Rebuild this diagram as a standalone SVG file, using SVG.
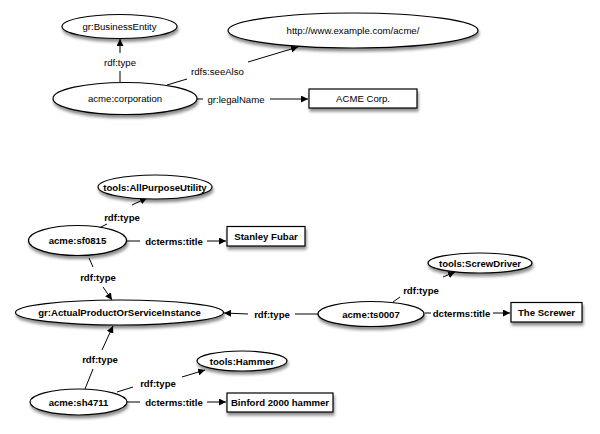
<svg xmlns="http://www.w3.org/2000/svg" width="600" height="434" viewBox="0 0 600 434">
<defs>
<filter id="sh" x="-20%" y="-40%" width="140%" height="200%">
<feDropShadow dx="1" dy="3" stdDeviation="1.6" flood-color="#000" flood-opacity="0.45"/>
</filter>
<marker id="ah" viewBox="0 0 10 10" refX="10" refY="5" markerWidth="7" markerHeight="7" markerUnits="userSpaceOnUse" orient="auto">
<path d="M0,0 L10,5 L0,10 z" fill="#000"/>
</marker>
</defs>
<style>
.n{fill:#fff;stroke:#000;stroke-width:1.2;filter:url(#sh)}
.t{font-family:"Liberation Sans",Arial,sans-serif;font-size:9.6px;text-anchor:middle;fill:#000}
.b{font-weight:bold}
.e{stroke:#000;stroke-width:1;fill:none}
.a{marker-end:url(#ah)}
</style>
<rect width="600" height="434" fill="#fff"/>

<g id="connectors">
<line class="e" x1="120" y1="82" x2="120" y2="71"/>
<line class="e a" x1="120" y1="53" x2="120" y2="39"/>
<text class="t" x="120" y="65.5">rdf:type</text>
<line class="e" x1="167" y1="85" x2="187" y2="79"/>
<line class="e a" x1="248" y1="62" x2="298" y2="47"/>
<text class="t" x="217.5" y="74.5">rdfs:seeAlso</text>
<line class="e" x1="197" y1="99" x2="203" y2="99"/>
<line class="e a" x1="270" y1="99" x2="308" y2="99"/>
<text class="t" x="236" y="102.5">gr:legalName</text>

<line class="e" x1="97" y1="229" x2="107" y2="224"/>
<line class="e a" x1="132" y1="205" x2="147" y2="198"/>
<text class="t b" x="122" y="220.5">rdf:type</text>
<line class="e" x1="127" y1="241" x2="140" y2="241"/>
<line class="e a" x1="207" y1="241" x2="226" y2="241"/>
<text class="t b" x="174" y="244.5">dcterms:title</text>
<line class="e" x1="89" y1="258" x2="93" y2="267"/>
<line class="e a" x1="103" y1="287" x2="112" y2="300"/>
<text class="t b" x="98" y="280.5">rdf:type</text>
<line class="e" x1="318" y1="314" x2="295" y2="314"/>
<line class="e a" x1="248" y1="314" x2="224" y2="313"/>
<text class="t b" x="272" y="317.5">rdf:type</text>
<line class="e" x1="393" y1="302" x2="400" y2="297"/>
<line class="e a" x1="443" y1="277" x2="455" y2="272"/>
<text class="t b" x="421" y="293.5">rdf:type</text>
<line class="e" x1="425" y1="313" x2="431" y2="313"/>
<line class="e a" x1="493" y1="313" x2="510" y2="313"/>
<text class="t b" x="461.5" y="316.5">dcterms:title</text>
<line class="e" x1="85" y1="389" x2="93" y2="369"/>
<line class="e a" x1="102" y1="350" x2="113" y2="326"/>
<text class="t b" x="100" y="362.5">rdf:type</text>
<line class="e" x1="117" y1="392" x2="133" y2="387"/>
<line class="e a" x1="182" y1="377" x2="205" y2="370"/>
<text class="t b" x="158" y="386.5">rdf:type</text>
<line class="e" x1="127" y1="402" x2="140" y2="402"/>
<line class="e a" x1="207" y1="402" x2="226" y2="402"/>
<text class="t b" x="174" y="405.5">dcterms:title</text>
</g>

<g id="businessEntity"><ellipse class="n" cx="119.5" cy="26.5" rx="57.5" ry="12"/><text class="t" x="119.5" y="30">gr:BusinessEntity</text></g>
<g id="acmeUrl"><ellipse class="n" cx="353" cy="30.5" rx="125" ry="17.5"/><text class="t" x="353" y="34">http://www.example.com/acme/</text></g>
<g id="corporation"><ellipse class="n" cx="125" cy="98.5" rx="72" ry="16"/><text class="t" x="125" y="102">acme:corporation</text></g>
<g id="acmeCorp"><rect class="n" x="309" y="89" width="108" height="19"/><text class="t" x="363" y="102">ACME Corp.</text></g>

<g id="allPurpose"><ellipse class="n" cx="155" cy="187" rx="57" ry="12"/><text class="t b" x="155" y="190.5">tools:AllPurposeUtility</text></g>
<g id="sf0815"><ellipse class="n" cx="77.5" cy="240.5" rx="49" ry="15"/><text class="t b" x="77.5" y="244">acme:sf0815</text></g>
<g id="stanley"><rect class="n" x="227" y="226.5" width="78" height="19.5"/><text class="t b" x="266" y="240">Stanley Fubar</text></g>
<g id="actualProduct"><ellipse class="n" cx="119.5" cy="312.5" rx="104" ry="12.5"/><text class="t b" x="119.5" y="316">gr:ActualProductOrServiceInstance</text></g>
<g id="screwDriver"><ellipse class="n" cx="480" cy="263" rx="52" ry="10"/><text class="t b" x="480" y="266.5">tools:ScrewDriver</text></g>
<g id="ts0007"><ellipse class="n" cx="371" cy="314" rx="53" ry="12.5"/><text class="t b" x="371" y="317.5">acme:ts0007</text></g>
<g id="screwer"><rect class="n" x="511" y="302.5" width="71" height="19.5"/><text class="t b" x="546.5" y="316">The Screwer</text></g>
<g id="hammer"><ellipse class="n" cx="242" cy="361" rx="45" ry="10"/><text class="t b" x="242" y="364.5">tools:Hammer</text></g>
<g id="sh4711"><ellipse class="n" cx="78.5" cy="402" rx="48.5" ry="13"/><text class="t b" x="78.5" y="405.5">acme:sh4711</text></g>
<g id="binford"><rect class="n" x="227" y="393" width="106" height="19"/><text class="t b" x="280" y="406">Binford 2000 hammer</text></g>
</svg>
